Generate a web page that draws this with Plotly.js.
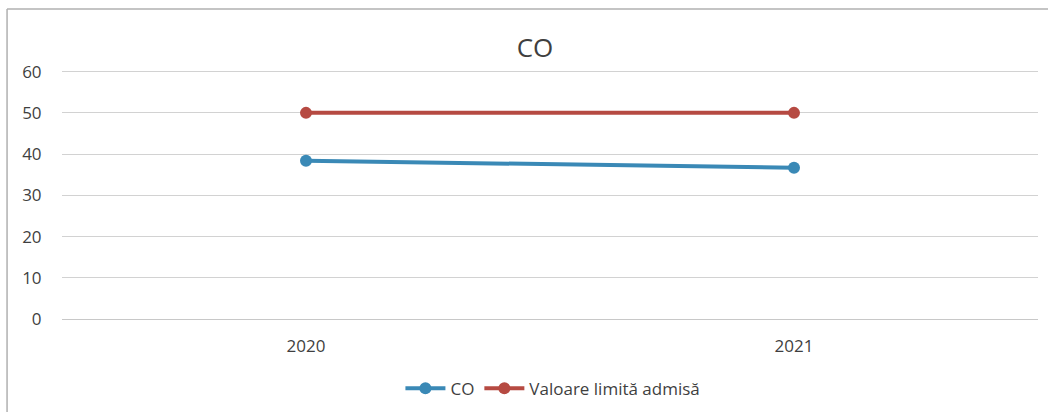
<!DOCTYPE html>
<html>
<head>
<meta charset="utf-8">
<script src="https://cdn.plot.ly/plotly-3.0.1.min.js"></script>
<style>
html,body{margin:0;padding:0;background:#fff;}
#chart{width:1048px;height:412px;}
</style>
</head>
<body>
<div id="chart"></div>
<script>
const years = ["2020", "2021"];
const coValues = [38.4, 36.7];
const limitValues = [50, 50];
const seriesNames = ["CO", "Valoare limită admisă"];
const chartTitle = "CO";

const blue = "#3A89B6";
const red = "#B64A42";

const traces = [
  {
    x: years, y: coValues, name: seriesNames[0], type: "scatter", mode: "lines+markers",
    line: {color: blue, width: 4}, marker: {color: blue, size: 12}
  },
  {
    x: years, y: limitValues, name: seriesNames[1], type: "scatter", mode: "lines+markers",
    line: {color: red, width: 4}, marker: {color: red, size: 12}
  }
];

const fontFam = "'Open Sans', sans-serif";
const txt = "#3f3f3f";

const layout = {
  width: 1048, height: 412,
  margin: {l: 62, r: 10, t: 70, b: 93, autoexpand: false},
  paper_bgcolor: "#fff", plot_bgcolor: "#fff",
  font: {family: fontFam, color: txt, size: 17},
  title: {text: chartTitle, x: 0.4846, xref: "paper", xanchor: "center", y: 1 - 48/412, yref: "container", yanchor: "middle",
          font: {family: fontFam, size: 26, color: txt}},
  showlegend: true,
  legend: {orientation: "h", x: 0.503, xanchor: "center", y: -0.28, yanchor: "middle",
           font: {family: fontFam, size: 17, color: txt}, itemwidth: 40},
  xaxis: {
    type: "category", range: [-0.5, 1.5], showgrid: false, zeroline: false,
    showline: false, ticks: "outside", ticklen: 12, tickcolor: "rgba(0,0,0,0)",
    tickfont: {size: 17, color: txt}, automargin: false
  },
  yaxis: {
    range: [0, 60.4], tickvals: [0, 10, 20, 30, 40, 50, 60], showgrid: true, gridcolor: "#d2d2d2", gridwidth: 1,
    zeroline: true, zerolinecolor: "#c8c8c8", zerolinewidth: 1, showline: false,
    ticks: "outside", ticklen: 16, tickcolor: "rgba(0,0,0,0)",
    tickfont: {size: 17, color: txt}, automargin: false
  },
  shapes: [
    {type: "line", xref: "paper", yref: "paper", x0: -0.0563, x1: -0.0563, y0: -0.45, y1: 1.245,
     line: {color: "#b0b0b0", width: 1.5}},
    {type: "line", xref: "paper", yref: "paper", x0: -0.0563, x1: 1.03, y0: 1.245, y1: 1.245,
     line: {color: "#b0b0b0", width: 1.5}}
  ]
};

Plotly.newPlot("chart", traces, layout, {displayModeBar: false, staticPlot: true});
</script>
</body>
</html>
